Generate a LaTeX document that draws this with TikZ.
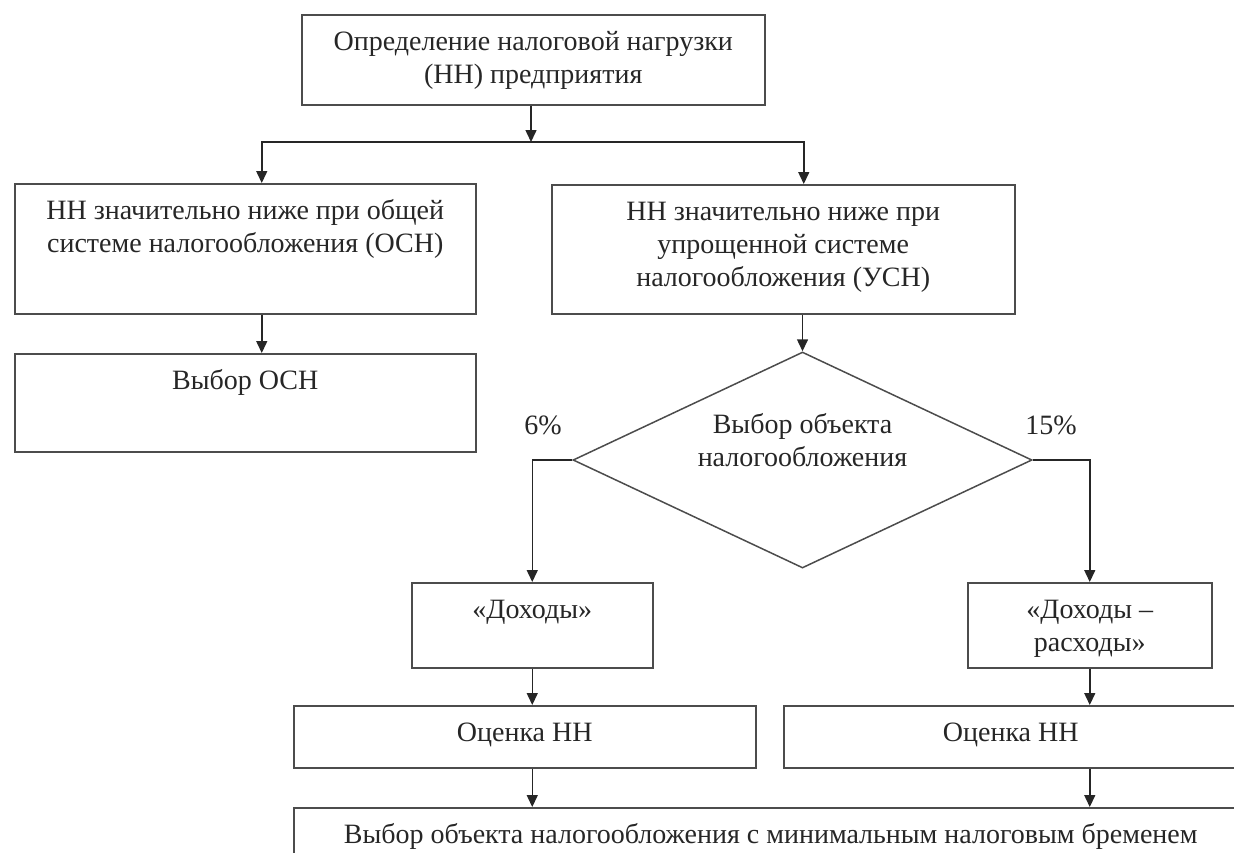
\documentclass[tikz,border=0pt]{standalone}
\usepackage{fontspec}
\setmainfont{Liberation Serif}
\usepackage{tikz}
\usetikzlibrary{shapes.geometric,arrows.meta}

\begin{document}
\begin{tikzpicture}
		[x=0.5pt,y=-0.5pt,
		every node/.style={font=\fontsize{14}{16.5}\selectfont,text=black!85},
		blk/.style 2 args={draw=black!70,line width=0.75pt,inner sep=0pt,anchor=north west,
			execute at begin node={\begin{minipage}[t][#2][t]{#1}\centering\vspace*{6.3pt}\strut},
			execute at end node={\end{minipage}}},
		dec/.style={diamond,aspect=2.125,draw=black!70,line width=0.75pt,inner sep=0pt,align=center,
			minimum width=229.5pt,minimum height=108pt},
		arr/.style={draw=black!85,line width=0.75pt,-{Triangle[length=6pt,width=5.5pt]}}]

		\useasboundingbox (0,0) rectangle (1234,852);
		\clip (0,0) rectangle (1234,852);

		\node[blk={231.5pt}{45pt}] (opr) at (301,14) {Определение налоговой нагрузки\\(НН) предприятия}
		;

		\node[blk={230.5pt}{65pt}] (osn) at (14,183) {НН значительно ниже при общей\\системе налогообложения (ОСН)}
		;

		\node[blk={230.5pt}{49pt}] (osnv) at (14,353) {Выбор ОСН}
		;

		\node[blk={231.5pt}{64.5pt}] (usn) at (551,184) {НН значительно ниже при\\упрощенной системе\\налогообложения (УСН)}
		;

		\node[dec] (obj) at (802.5,460) {Выбор объекта\\налогообложения\\[4pt]\mbox{}}
		;

		\node (p6) at (543,425) {6\%}
		;

		\node (p15) at (1051,425) {15\%}
		;

		\node[blk={120.5pt}{42.5pt}] (doh) at (411,582) {«Доходы»}
		;

		\node[blk={122pt}{42.5pt}] (rash) at (967,582) {«Доходы –\\расходы»}
		;

		\node[blk={231pt}{31pt}] (ocen1) at (293,705) {Оценка НН}
		;

		\node[blk={227pt}{31pt}] (ocen2) at (783,705) {Оценка НН}
		;

		\node[blk={477pt}{45pt}] (itog) at (293,807) {Выбор объекта налогообложения с минимальным налоговым бременем}
		;

		% connectors
		\coordinate (fork) at (531,142);
		\draw[arr] (opr.south -| fork) -- (fork);
		\draw[arr] (fork) -| ([xshift=8.25pt]osn.north);
		\draw[arr] (fork) -| ([xshift=10.25pt]usn.north);
		\draw[arr] ([xshift=8.25pt]osn.south) -- ([xshift=8.25pt]osnv.north);
		\draw[arr] (usn.south -| obj.north) -- (obj.north);
		\draw[arr] (obj.west) -| (doh.north);
		\draw[arr] (obj.east) -| (rash.north);
		\draw[arr] (doh.south) -- (doh.south |- ocen1.north);
		\draw[arr] (rash.south) -- (rash.south |- ocen2.north);
		\draw[arr] (ocen1.south -| doh.south) -- (itog.north -| doh.south);
		\draw[arr] (ocen2.south -| rash.south) -- (itog.north -| rash.south);

	\end{tikzpicture}
\end{document}
